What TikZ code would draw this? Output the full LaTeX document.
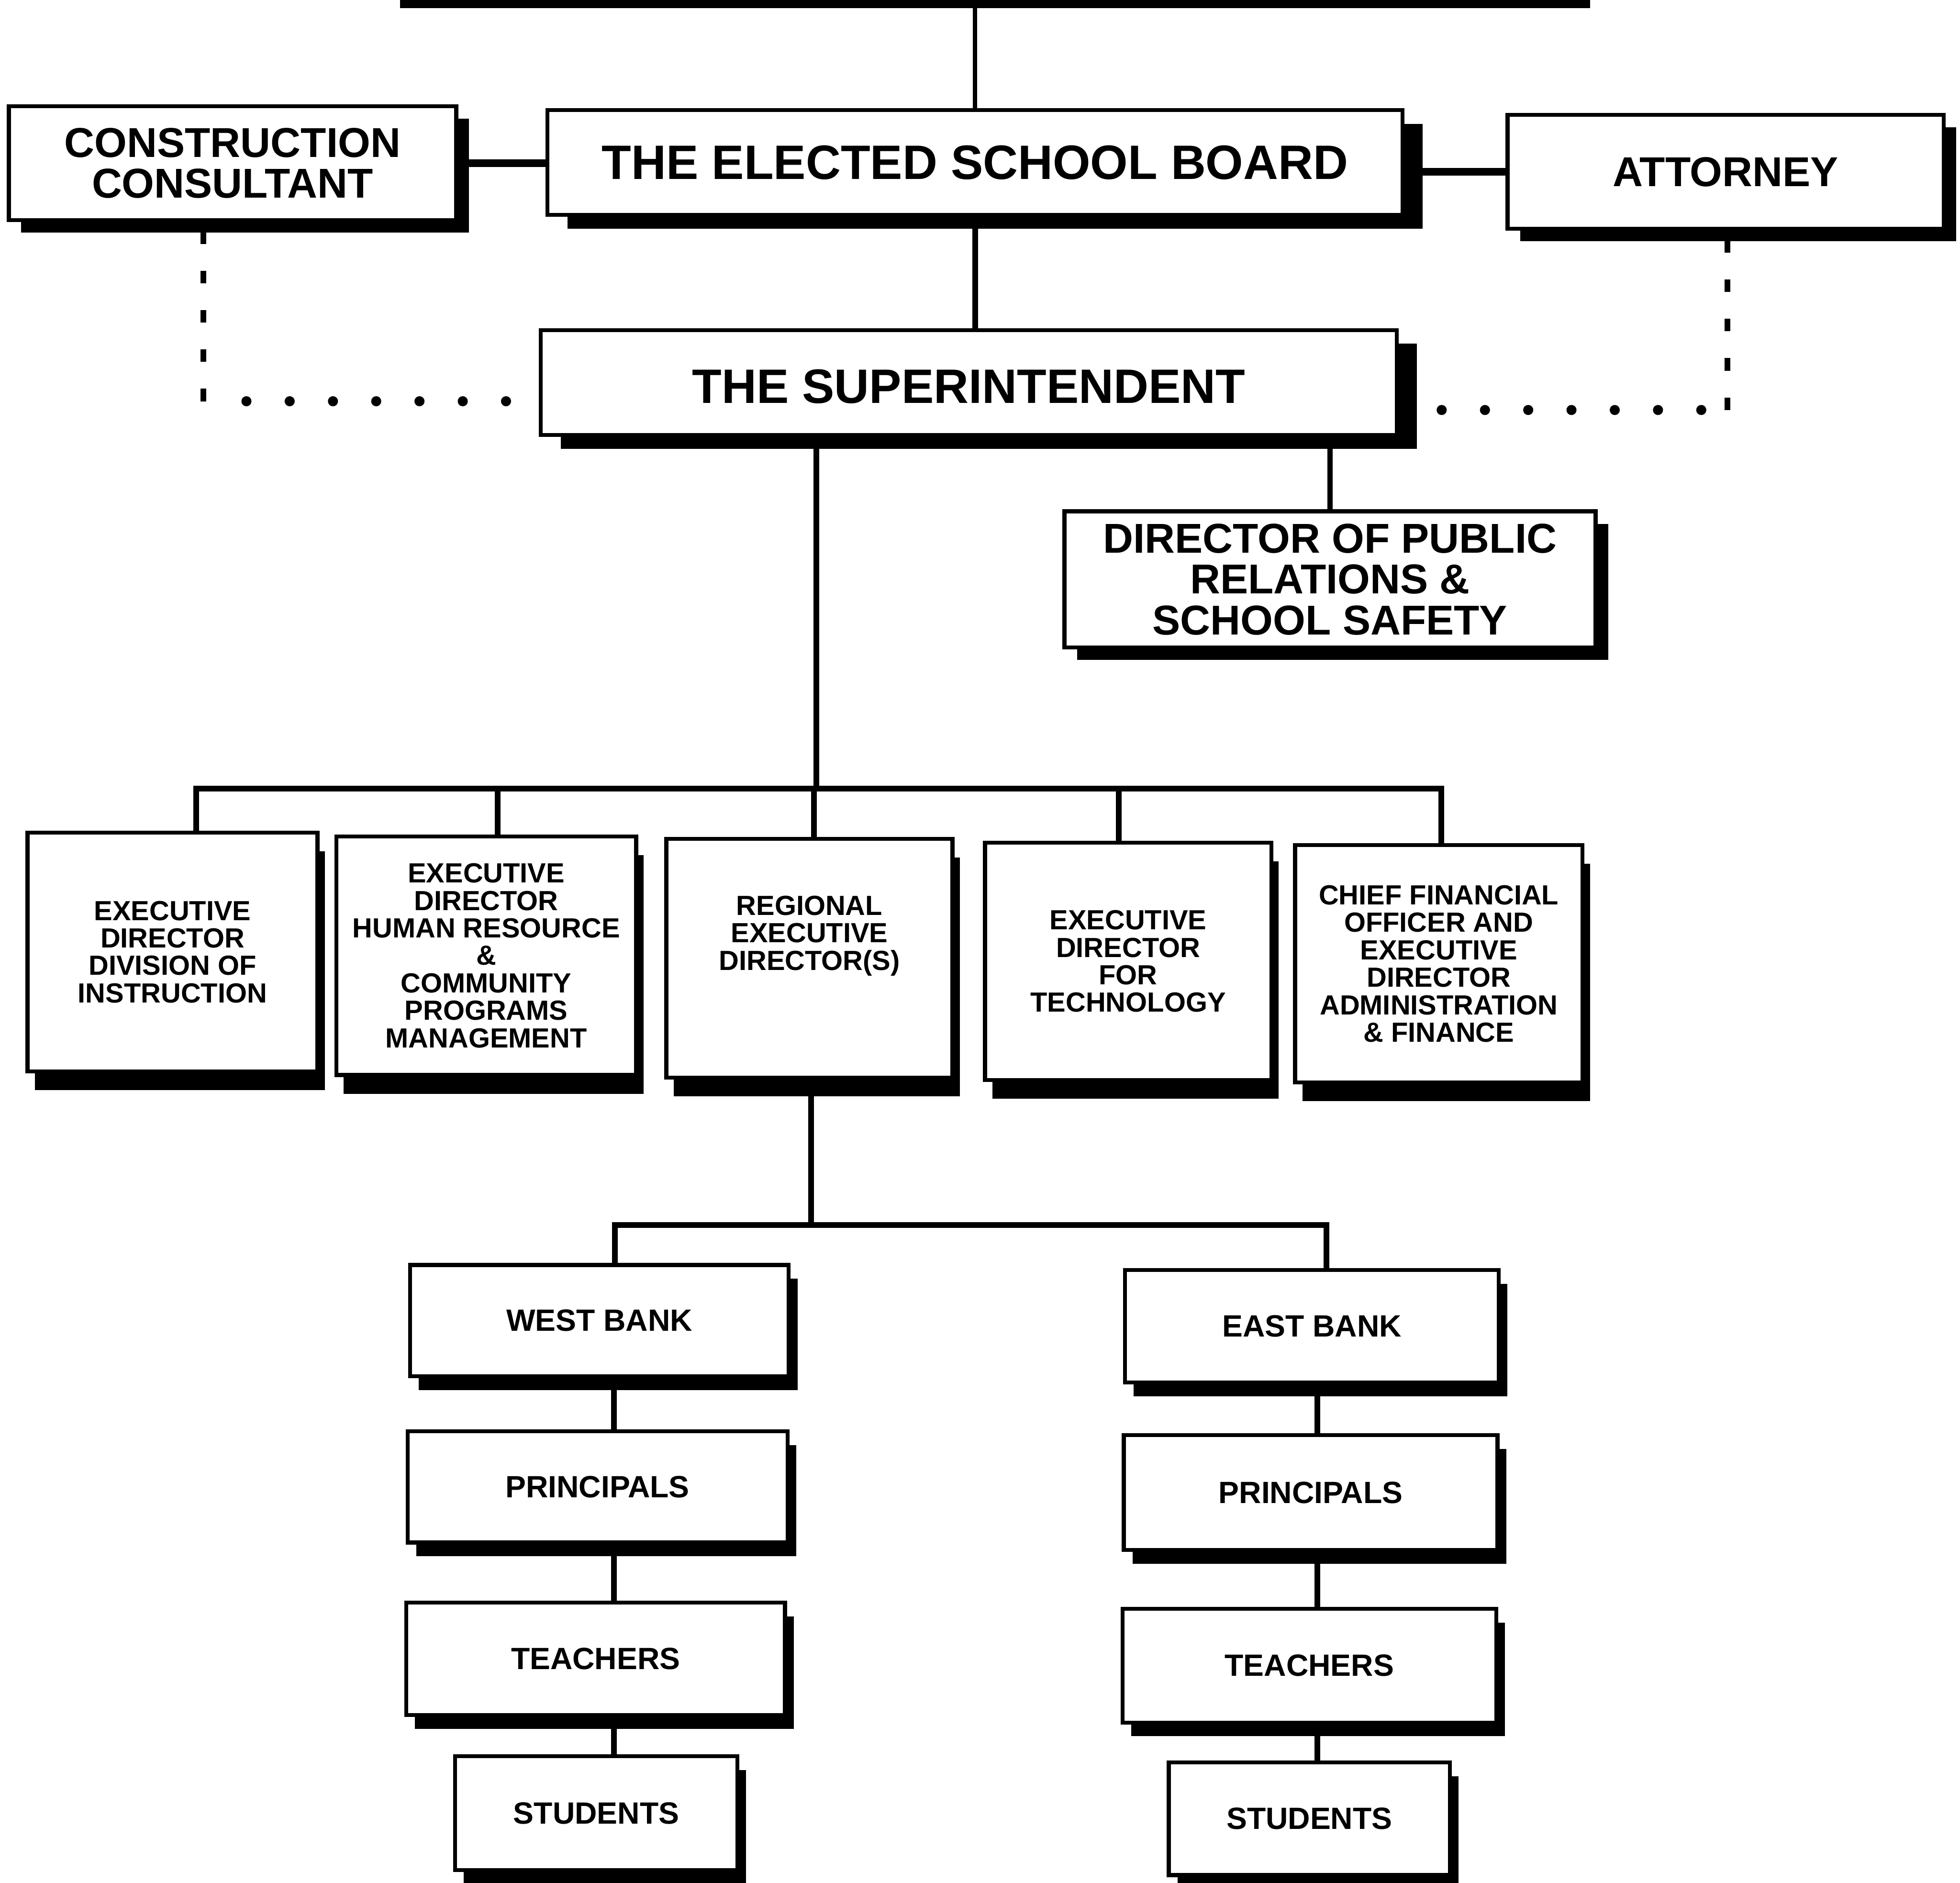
\documentclass[tikz,border=0pt]{standalone}
\usepackage{fontspec}
\setmainfont{Liberation Sans}
\usetikzlibrary{positioning}
\usetikzlibrary{shadows}

\tikzset{
	orgbox/.style={draw, fill=white, line width=1.8pt, inner sep=2pt, align=center},
	bigbox/.style={orgbox, font=\bfseries\fontsize{22}{24}\selectfont,
		drop shadow={shadow xshift=0.32cm, shadow yshift=-0.22cm, opacity=1, fill=black}},
	midbox/.style={orgbox, font=\bfseries\fontsize{19}{18.6}\selectfont,
		drop shadow={shadow xshift=0.2cm, shadow yshift=-0.2cm, opacity=1, fill=black}},
	rowbox/.style={orgbox, font=\bfseries\fontsize{12.6}{12.5}\selectfont,
		drop shadow={shadow xshift=0.12cm, shadow yshift=-0.3cm, opacity=1, fill=black}},
	unitbox/.style={orgbox, font=\bfseries\fontsize{14}{16}\selectfont,
		drop shadow={shadow xshift=0.14cm, shadow yshift=-0.22cm, opacity=1, fill=black}},
	link/.style={line width=2.6pt},
	sidelink/.style={line width=3.6pt},
	vdash/.style={line width=2.6pt, dash pattern=on 5.7pt off 12.2pt},
	hdots/.style={line width=4.6pt, line cap=round, dash pattern=on 0pt off 19.7pt, dash phase=0.1pt}
}

\begin{document}
\begin{tikzpicture}[x=0.02cm, y=-0.02cm, line join=miter]
	\useasboundingbox (0,0) rectangle (1568,1506);
	\clip (0,0) rectangle (1568,1506);

	% board and advisers
	\node[bigbox, minimum width=19.04cm, minimum height=1.9cm] (top) at (780,-52) {};
	\node[bigbox, minimum width=13.68cm, minimum height=1.68cm] (board) at (780,130) {THE ELECTED SCHOOL BOARD};
	\node[midbox, minimum width=7.16cm, minimum height=1.82cm] (cc) at (186,130.5) {CONSTRUCTION\\CONSULTANT};
	\node[midbox, minimum width=6.98cm, minimum height=1.82cm] (att) at (1380.5,137.5) {ATTORNEY};
	\node[bigbox, minimum width=13.7cm, minimum height=1.68cm, text height=19pt] (sup) at (775,306) {THE SUPERINTENDENT};
	\node[midbox, minimum width=8.5cm, minimum height=2.18cm] (dpr) at (1064,463.5) {DIRECTOR OF PUBLIC\\RELATIONS \&\\SCHOOL SAFETY};

	% executive row
	\node[rowbox, minimum width=4.64cm, minimum height=3.82cm] (instr) at (138,761.5) {EXECUTIVE\\DIRECTOR\\DIVISION OF\\INSTRUCTION};
	\node[rowbox, minimum width=4.8cm, minimum height=3.82cm] (hr) at (389,764.5) {EXECUTIVE\\DIRECTOR\\HUMAN RESOURCE\\\&\\COMMUNITY\\PROGRAMS\\MANAGEMENT};
	\node[rowbox, minimum width=4.58cm, minimum height=3.82cm, text depth=23pt] (red) at (647.5,766.5) {REGIONAL\\EXECUTIVE\\DIRECTOR(S)};
	\node[rowbox, minimum width=4.58cm, minimum height=3.8cm] (tech) at (902.5,769) {EXECUTIVE\\DIRECTOR\\FOR\\TECHNOLOGY};
	\node[rowbox, minimum width=4.6cm, minimum height=3.8cm] (cfo) at (1151,771) {CHIEF FINANCIAL\\OFFICER AND\\EXECUTIVE\\DIRECTOR\\ADMINISTRATION\\\& FINANCE};

	% west bank
	\node[unitbox, minimum width=6.06cm, minimum height=1.78cm] (west) at (479.5,1056.5) {WEST BANK};
	\node[unitbox, minimum width=6.08cm, minimum height=1.78cm] (wpri) at (478,1189.5) {PRINCIPALS};
	\node[unitbox, minimum width=6.06cm, minimum height=1.8cm] (wtea) at (476.5,1327) {TEACHERS};
	\node[unitbox, minimum width=4.52cm, minimum height=1.82cm] (wstu) at (477,1450.5) {STUDENTS};

	% east bank
	\node[unitbox, minimum width=5.98cm, minimum height=1.8cm] (east) at (1049.5,1061) {EAST BANK};
	\node[unitbox, minimum width=5.98cm, minimum height=1.84cm] (epri) at (1048.5,1194) {PRINCIPALS};
	\node[unitbox, minimum width=5.98cm, minimum height=1.82cm] (etea) at (1047.5,1332.5) {TEACHERS};
	\node[unitbox, minimum width=4.5cm, minimum height=1.8cm] (estu) at (1047.5,1455) {STUDENTS};

	\coordinate (ccbend) at (162.7,321);
	\coordinate (ccend) at (410,321);
	\coordinate (attbend) at (1382,328);
	\coordinate (attend) at (1150,328);
	\coordinate (bus1) at (653,631);
	\coordinate (busL) at (157,631);
	\coordinate (busR) at (1153,631);
	\coordinate (bus2) at (649,980);
	\coordinate (wx) at (492,980);
	\coordinate (ex) at (1061,980);
	\coordinate (wcol) at (491,0);
	\coordinate (ecol) at (1054,0);

	\draw[line width=2pt] (board.north) -- (board.north |- top.south);
	\draw[sidelink] (cc.east) -- (cc.east -| board.west);
	\draw[sidelink] (board.east |- att.west) -- (att.west);
	\draw[link] (board.south) -- (board.south |- sup.north);

	\draw[vdash] (ccbend) -- (cc.south -| ccbend);
	\draw[hdots] (ccbend) -- (ccend);
	\draw[vdash] (attbend) -- (att.south -| attbend);
	\draw[hdots, dash phase=7.75pt] (attbend) -- (attend);

	\draw[link] (dpr.north) -- (dpr.north |- sup.south);
	\draw[link] (sup.south -| bus1) -- (bus1);
	\draw[link] (instr.north -| busL) -- (busL) -- (busR) -- (cfo.north -| busR);
	\foreach \n/\x in {hr/398, red/651, tech/895}
		\draw[link] (\n.north -| \x,0) -- (\x,0 |- busL);

	\draw[link] (red.south -| bus2) -- (bus2);
	\draw[link] (west.north -| wx) -- (wx) -- (ex) -- (east.north -| ex);
	\foreach \a/\b in {west/wpri, wpri/wtea, wtea/wstu}
		\draw[link] (\a.south -| wcol) -- (\b.north -| wcol);
	\foreach \a/\b in {east/epri, epri/etea, etea/estu}
		\draw[link] (\a.south -| ecol) -- (\b.north -| ecol);

\end{tikzpicture}
\end{document}
